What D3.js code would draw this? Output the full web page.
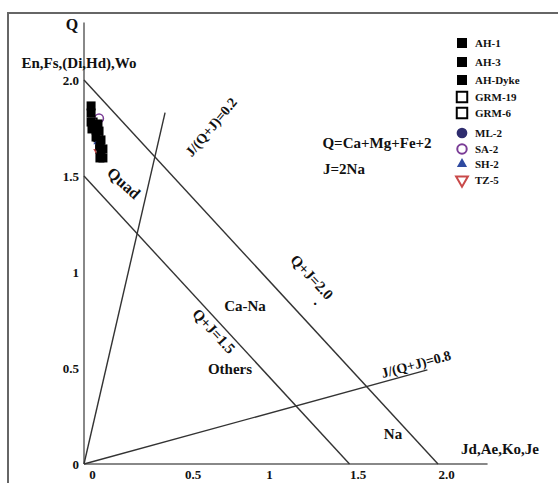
<!DOCTYPE html>
<html>
<head>
<meta charset="utf-8">
<script src="https://cdn.jsdelivr.net/npm/d3@7"></script>
<style>
    body { margin: 0; background: #fff; }
    text { font-family: 'Liberation Serif', 'DejaVu Serif', serif; font-weight: bold; fill: #111; }
</style>
</head>
<body>
<svg width="558" height="483"></svg>
<script>
// tick values / labels
const xTicks = [0, 0.5, 1, 1.5, 2];
const xTickLabels = ['0', '0.5', '1', '1.5', '2.0'];
const yTicks = [0, 0.5, 1, 1.5, 2];
const yTickLabels = ['0', '0.5', '1', '1.5', '2.0'];

// boundary lines: [J, Q] end points
const linesQJ20 = [[0, 2], [2, 0]];
const linesQJ15 = [[0, 1.5], [1.5, 0]];
const linesR02 = [[0, 0], [0.458, 1.83]];
const linesR08 = [[0, 0], [1.94, 0.49]];

// samples (J, Q)
const seriesNames = ['AH-1', 'AH-3', 'AH-Dyke', 'GRM-19', 'GRM-6', 'ML-2', 'SA-2', 'SH-2', 'TZ-5'];
const grm19 = [[0.05, 1.78], [0.08, 1.70]];
const grm6 = [[0.07, 1.74], [0.09, 1.64]];
const ml2 = [[0.06, 1.76]];
const sh2 = [[0.08, 1.68]];
const tz5 = [[0.09, 1.62]];
const sa2 = [[0.085, 1.80]];
const ah1 = [[0.040, 1.865], [0.040, 1.828], [0.040, 1.781], [0.045, 1.745]];
const ah3 = [[0.079, 1.771], [0.085, 1.734], [0.068, 1.703], [0.096, 1.688]];
const ahDyke = [[0.090, 1.656], [0.107, 1.641], [0.096, 1.620], [0.107, 1.594], [0.090, 1.594]];

const svg = d3.select('svg');
const x = d3.scaleLinear().domain([0, 2]).range([84, 438]);
const y = d3.scaleLinear().domain([0, 2]).range([464, 80]);

// frame
svg.append('path')
    .attr('d', 'M8,483 V13 H558')
    .attr('fill', 'none')
    .attr('stroke', '#666')
    .attr('stroke-width', 2);

// axes
const axisG = svg.append('g').attr('class', 'axes');
axisG.append('line')
    .attr('x1', x(0)).attr('y1', y(0))
    .attr('x2', x(0)).attr('y2', y(2.3))
    .attr('stroke', '#888').attr('stroke-width', 2);
axisG.append('line')
    .attr('x1', x(0)).attr('y1', y(0))
    .attr('x2', x(2.28)).attr('y2', y(0))
    .attr('stroke', '#888').attr('stroke-width', 2);

const yAxis = svg.append('g')
    .attr('transform', `translate(${x(0) - 2},0)`)
    .call(d3.axisLeft(y).tickValues(yTicks).tickSize(0).tickPadding(3)
        .tickFormat((d, i) => yTickLabels[i]));
const xAxis = svg.append('g')
    .attr('transform', `translate(8,${y(0) + 3})`)
    .call(d3.axisBottom(x).tickValues(xTicks).tickSize(0).tickPadding(3)
        .tickFormat((d, i) => xTickLabels[i]));
[yAxis, xAxis].forEach((a) => {
    a.select('.domain').remove();
    a.selectAll('text')
        .style('font-family', "'Liberation Serif', serif")
        .style('font-weight', 'bold')
        .style('font-size', '13px')
        .attr('fill', '#111');
});
xAxis.selectAll('.tick').filter((d) => d === 0.5)
    .select('text').attr('dx', 12);

// boundary lines
const line = d3.line().x(d => x(d[0])).y(d => y(d[1]));
svg.append('g')
    .attr('class', 'bounds')
    .selectAll('path')
    .data([linesQJ20, linesQJ15, linesR02, linesR08])
    .enter()
    .append('path')
    .attr('d', line)
    .attr('fill', 'none')
    .attr('stroke', '#333')
    .attr('stroke-width', 1.4);

// labels
const labels = [
    { t: 'Q', x: 72, y: 24, s: 16, a: 0 },
    { t: 'En,Fs,(Di,Hd),Wo', x: 79, y: 63, s: 15, a: 0 },
    { t: 'Jd,Ae,Ko,Je', x: 500, y: 449, s: 15, a: 0 },
    { t: 'Quad', x: 124, y: 183, s: 16, a: 42 },
    { t: 'J/(Q+J)=0.2', x: 211, y: 127, s: 14, a: -50 },
    { t: 'Q+J=2.0', x: 312, y: 277, s: 15, a: 47 },
    { t: '.', x: 315, y: 300, s: 15, a: 0 },
    { t: 'Q+J=1.5', x: 214, y: 331, s: 15, a: 47 },
    { t: 'Ca-Na', x: 245, y: 306, s: 15, a: 0 },
    { t: 'Others', x: 230, y: 369, s: 15, a: 0 },
    { t: 'Na', x: 393, y: 434, s: 15, a: 0 },
    { t: 'J/(Q+J)=0.8', x: 416, y: 364, s: 14, a: -15 },
    { t: 'Q=Ca+Mg+Fe+2', x: 377, y: 143, s: 15, a: 0 },
    { t: 'J=2Na', x: 344, y: 169, s: 15, a: 0 }
];
svg.append('g')
    .selectAll('text')
    .data(labels)
    .enter()
    .append('text')
    .attr('transform', d => `translate(${d.x},${d.y}) rotate(${d.a})`)
    .attr('text-anchor', 'middle')
    .attr('dy', '.35em')
    .style('font-size', d => `${d.s}px`)
    .text(d => d.t);

// markers
const symbolPath = (type, size) => d3.symbol().type(type).size(size)();
const styles = {
    'AH-1': { type: d3.symbolSquare, size: 81, fill: '#000', stroke: 'none', sw: 0 },
    'AH-3': { type: d3.symbolSquare, size: 81, fill: '#000', stroke: 'none', sw: 0 },
    'AH-Dyke': { type: d3.symbolSquare, size: 81, fill: '#000', stroke: 'none', sw: 0 },
    'GRM-19': { type: d3.symbolSquare, size: 64, fill: '#fff', stroke: '#000', sw: 1.5 },
    'GRM-6': { type: d3.symbolSquare, size: 64, fill: '#fff', stroke: '#000', sw: 1.5 },
    'ML-2': { type: d3.symbolCircle, size: 50, fill: '#2e2c6e', stroke: 'none', sw: 0 },
    'SA-2': { type: d3.symbolCircle, size: 60, fill: 'none', stroke: '#7a3c96', sw: 1.5 },
    'SH-2': { type: d3.symbolTriangle, size: 40, fill: '#2f4aa0', stroke: 'none', sw: 0 },
    'TZ-5': { type: d3.symbolTriangle, size: 50, fill: '#fff', stroke: '#c94a4a', sw: 1.5 }
};
const plotOrder = [
    ['GRM-19', grm19], ['GRM-6', grm6], ['ML-2', ml2], ['SH-2', sh2], ['TZ-5', tz5],
    ['SA-2', sa2], ['AH-1', ah1], ['AH-3', ah3], ['AH-Dyke', ahDyke]
];
const pts = svg.append('g').attr('class', 'points');
plotOrder.forEach(([name, data]) => {
    const st = styles[name];
    pts.selectAll(null)
        .data(data)
        .enter()
        .append('path')
        .attr('d', symbolPath(st.type, st.size))
        .attr('transform', d => `translate(${x(d[0])},${y(d[1])})${name === 'TZ-5' ? ' rotate(180)' : ''}`)
        .attr('fill', st.fill)
        .attr('stroke', st.stroke)
        .attr('stroke-width', st.sw);
});

// legend
const legendY = [43, 62, 80, 97, 113, 133, 149, 164, 180];
const legendSize = {
    'AH-1': 100, 'AH-3': 100, 'AH-Dyke': 100, 'GRM-19': 110, 'GRM-6': 110,
    'ML-2': 90, 'SA-2': 70, 'SH-2': 45, 'TZ-5': 60
};
const legend = svg.append('g')
    .attr('class', 'legend')
    .selectAll('g')
    .data(seriesNames)
    .enter()
    .append('g')
    .attr('transform', (d, i) => `translate(462,${legendY[i]})`);
legend.append('path')
    .attr('d', d => symbolPath(styles[d].type, legendSize[d]))
    .attr('transform', d => (d === 'TZ-5' ? 'rotate(180)' : null))
    .attr('fill', d => styles[d].fill)
    .attr('stroke', d => styles[d].stroke)
    .attr('stroke-width', d => (styles[d].sw ? 2 : 0));
legend.append('text')
    .attr('x', 13)
    .attr('dy', '.35em')
    .style('font-size', '11px')
    .text(d => d);
</script>
</body>
</html>
